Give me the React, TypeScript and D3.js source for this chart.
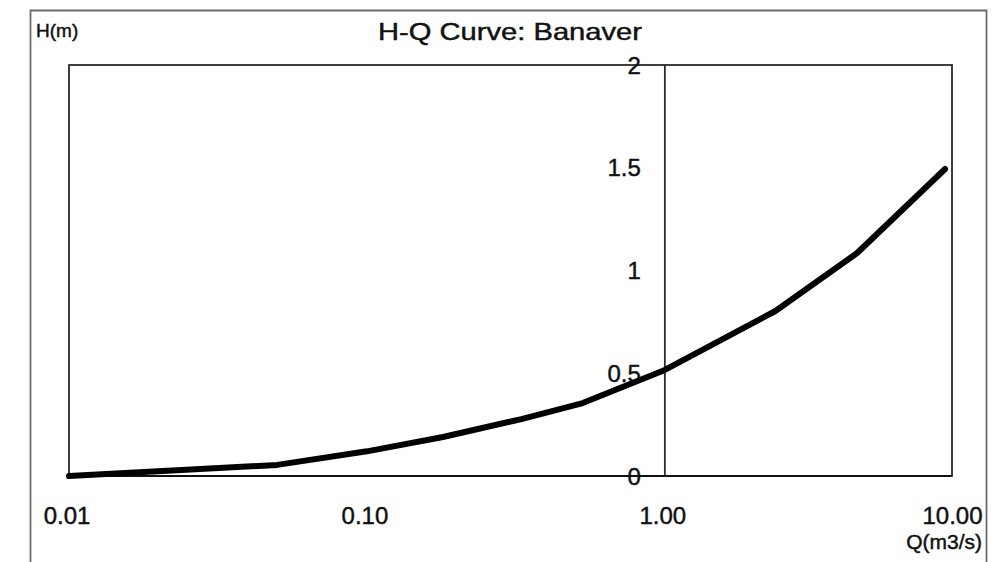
import React from "react";
import * as d3 from "d3";

// Discharge Q (m3/s) and stage H (m)
const qValues = [0.01, 0.05, 0.1, 0.18, 0.33, 0.53, 1.0, 2.35, 4.42, 8.72];
const hValues = [0, 0.054, 0.12, 0.19, 0.277, 0.355, 0.516, 0.803, 1.085, 1.494];

const xTicks = [0.01, 0.1, 1, 10];
const xTickLabels = ["0.01", "0.10", "1.00", "10.00"];
const yTicks = [0, 0.5, 1, 1.5, 2];
const yTickLabels = ["0", "0.5", "1", "1.5", "2"];

const title = "H-Q Curve: Banaver";
const yTitle = "H(m)";
const xTitle = "Q(m3/s)";

const W = 1005;
const H = 562;
const FONT = "'Liberation Sans', Arial, Helvetica, sans-serif";

export default function App() {
  const qMin = 0.01;
  const qMax = 9.2;
  const x = d3.scaleLog().domain([qMin, qMax]).range([69, 952]);
  const y = d3.scaleLinear().domain([0, 2]).range([476, 65]);

  const pts = qValues.map((q, i) => [q, hValues[i]] as [number, number]);
  const line = d3
    .line<[number, number]>()
    .x((d) => x(d[0]))
    .y((d) => y(d[1]));

  const outer = { left: 30.5, top: 10.5, right: 986.5 };
  const axisX = x(1);
  const plotL = x(qMin);
  const plotR = x(qMax);
  const plotT = y(2);
  const plotB = y(0);

  const textStyle = { fill: "#111", stroke: "#111", strokeWidth: 0.45 };

  return (
    <svg
      width={W}
      height={H}
      style={{ position: "absolute", left: 0, top: 0, background: "#fff" }}
      fontFamily={FONT}
    >
      <rect x={0} y={0} width={W} height={H} fill="#fff" />
      {/* outer frame */}
      <path
        d={`M${outer.left},${H} V${outer.top} H${outer.right} V${H}`}
        fill="none"
        stroke="#6a6a6a"
        strokeWidth={1.8}
      />
      {/* plot frame */}
      <rect
        x={plotL}
        y={plotT}
        width={plotR - plotL}
        height={plotB - plotT}
        fill="none"
        stroke="#2a2a2a"
        strokeWidth={1.8}
      />
      {/* y axis through Q = 1 */}
      <line x1={axisX} x2={axisX} y1={plotT} y2={plotB} stroke="#2a2a2a" strokeWidth={1.8} />
      {/* bottom axis line */}
      <line x1={plotL} x2={plotR} y1={plotB} y2={plotB} stroke="#111" strokeWidth={2.2} />

      {/* y tick labels */}
      {yTicks.map((t, i) => (
        <text
          key={"y" + i}
          x={axisX - 24}
          y={y(t)}
          dy="0.36em"
          textAnchor="end"
          fontSize={24}
          {...textStyle}
        >
          {yTickLabels[i]}
        </text>
      ))}

      {/* x tick labels */}
      {xTicks.map((t, i) => {
        const last = i === xTicks.length - 1;
        return (
          <text
            key={"x" + i}
            x={last ? outer.right - 4 : x(t) - 2}
            y={524}
            textAnchor={last ? "end" : "middle"}
            fontSize={24}
            {...textStyle}
          >
            {xTickLabels[i]}
          </text>
        );
      })}

      {/* curve */}
      <path
        d={line(pts) || ""}
        fill="none"
        stroke="#000"
        strokeWidth={6}
        strokeLinejoin="round"
        strokeLinecap="round"
      />

      {/* titles */}
      <text
        x={510}
        y={40}
        textAnchor="middle"
        fontSize={24}
        textLength={264}
        lengthAdjust="spacingAndGlyphs"
        {...textStyle}
      >
        {title}
      </text>
      <text x={36} y={37} fontSize={19} {...textStyle}>
        {yTitle}
      </text>
      <text x={982} y={549} textAnchor="end" fontSize={21} {...textStyle}>
        {xTitle}
      </text>
    </svg>
  );
}
